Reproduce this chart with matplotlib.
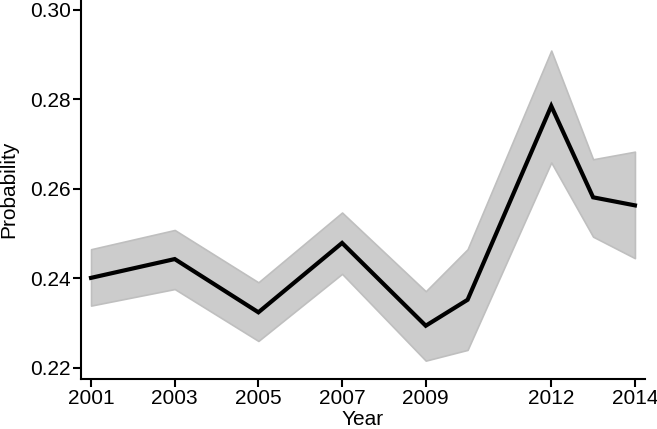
import matplotlib.pyplot as plt

plt.rcParams['font.family'] = ['Liberation Sans', 'DejaVu Sans']

# estimated probability by survey year, with 95% CI band
years = [2001, 2003, 2005, 2007, 2009, 2010, 2012, 2013, 2014]
prob = [0.2401, 0.2443, 0.2324, 0.2479, 0.2294, 0.2352, 0.2785, 0.2581, 0.2563]
ci_low = [0.2339, 0.2376, 0.2260, 0.2410, 0.2216, 0.2240, 0.2659, 0.2493, 0.2445]
ci_high = [0.2465, 0.2508, 0.2391, 0.2547, 0.2371, 0.2465, 0.2909, 0.2666, 0.2683]

xticks = [2001, 2003, 2005, 2007, 2009, 2012, 2014]
yticks = [0.22, 0.24, 0.26, 0.28, 0.30]

fig = plt.figure(figsize=(6.57, 4.29), dpi=100)
ax = fig.add_axes([0.1233, 0.1166, 0.8584, 0.8834])

ax.fill_between(years, ci_low, ci_high, facecolor='#cccccc',
                edgecolor='#bfbfbf', linewidth=1.2)
ax.plot(years, prob, color='black', linewidth=3, solid_joinstyle='miter')

ax.set_xlim(2000.76, 2014.24)
ax.set_ylim(0.2175, 0.3022)
ax.set_xticks(xticks)
ax.set_yticks(yticks)
ax.set_yticklabels([f'{v:.2f}' for v in yticks])

for s in ['top', 'right']:
    ax.spines[s].set_visible(False)
for s in ['left', 'bottom']:
    ax.spines[s].set_linewidth(1.5)
ax.tick_params(labelsize=15, width=1.5, length=5.5, pad=2)

ax.set_xlabel('Year', fontsize=15, labelpad=1)
ax.set_ylabel('Probability', fontsize=15)
ax.yaxis.set_label_coords(-0.111, 0.5)

plt.savefig('out.png', dpi=100)
